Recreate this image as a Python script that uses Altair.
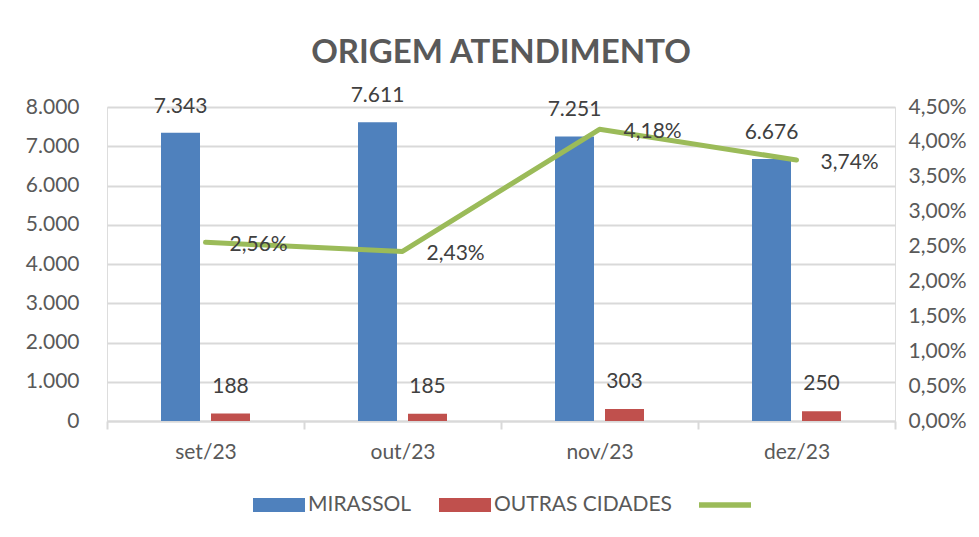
import altair as alt
import pandas as pd

meses = ["set/23", "out/23", "nov/23", "dez/23"]
mirassol = [7343, 7611, 7251, 6676]
outras = [188, 185, 303, 250]
percentual = [0.0256, 0.0243, 0.0418, 0.0374]
series = ["MIRASSOL", "OUTRAS CIDADES", " "]
cores = ["#4F81BD", "#C0504D", "#9BBB59"]
ticks_esq = [0, 1000, 2000, 3000, 4000, 5000, 6000, 7000, 8000]
ticks_dir = [0.0, 0.005, 0.01, 0.015, 0.02, 0.025, 0.03, 0.035, 0.04, 0.045]

FONT = "Lato"
GRAY = "#595959"
DARK = "#404040"
GRID = "#D9D9D9"

bars_df = pd.DataFrame({
    "mes": meses * 2,
    "serie": [series[0]] * len(meses) + [series[1]] * len(meses),
    "valor": mirassol + outras,
})
line_df = pd.DataFrame({"mes": meses, "pct": percentual})

x_enc = alt.X(
    "mes:N", sort=meses,
    scale=alt.Scale(paddingInner=0, paddingOuter=0),
    axis=alt.Axis(title=None, labelFontSize=21, labelColor=GRAY, labelFont=FONT,
                  tickBand="extent", tickSize=8, tickColor=GRID,
                  domain=True, domainColor=GRID, domainWidth=2, tickWidth=2,
                  labelPadding=12, grid=False, labelAngle=0),
)
y_left = alt.Y(
    "valor:Q", scale=alt.Scale(domain=[0, 8000], nice=False),
    axis=alt.Axis(title=None, values=ticks_esq,
                  labelExpr="replace(format(datum.value, ',d'), ',', '.')",
                  labelFontSize=21, labelColor=GRAY, labelFont=FONT,
                  ticks=False, domain=False, labelPadding=28,
                  grid=True, gridColor=GRID, gridWidth=2, gridOpacity=1),
)

base_bars = alt.Chart(bars_df).transform_calculate(
    rotulo="replace(format(datum.valor, ',d'), ',', '.')"
)

blue = base_bars.transform_filter(alt.datum.serie == series[0]).mark_bar(
    size=39, xOffset=-25, color=cores[0]).encode(x=x_enc, y=y_left)
red = base_bars.transform_filter(alt.datum.serie == series[1]).mark_bar(
    size=39, xOffset=25, color=cores[1]).encode(x=x_enc, y=y_left)
blue_txt = base_bars.transform_filter(alt.datum.serie == series[0]).mark_text(
    xOffset=-25, dy=-26, baseline="middle", font=FONT, fontSize=21, color=DARK
).encode(x=x_enc, y=y_left, text="rotulo:N")
red_txt = base_bars.transform_filter(alt.datum.serie == series[1]).mark_text(
    xOffset=25, dy=-27, baseline="middle", font=FONT, fontSize=21, color=DARK
).encode(x=x_enc, y=y_left, text="rotulo:N")

leg = alt.Legend(title=None, orient="none", direction="horizontal",
                 legendX=146, legendY=372,
                 symbolSize=2704, symbolStrokeWidth=0,
                 labelFontSize=21, labelColor=GRAY, labelFont=FONT,
                 labelOffset=3, columnPadding=27, labelLimit=400)

legend_pts = base_bars.transform_filter("false").mark_point(filled=True, opacity=1).encode(
    x=x_enc, y=y_left,
    color=alt.Color("serie:N", scale=alt.Scale(domain=series, range=cores), legend=leg),
    shape=alt.Shape("serie:N", scale=alt.Scale(
        domain=series,
        range=["M-1,-0.27H1V0.27H-1Z", "M-1,-0.27H1V0.27H-1Z", "M-1,-0.11H1V0.11H-1Z"]),
        legend=leg),
)

left = alt.layer(blue, red, blue_txt, red_txt, legend_pts)

y_right = alt.Y(
    "pct:Q", scale=alt.Scale(domain=[0, 0.045], nice=False),
    axis=alt.Axis(title=None, orient="right", values=ticks_dir,
                  labelExpr="replace(format(datum.value, '.2%'), '.', ',')",
                  labelFontSize=21, labelColor=GRAY, labelFont=FONT,
                  ticks=False, domain=False, grid=False, labelPadding=13),
)

line_base = alt.Chart(line_df).transform_calculate(
    rotulo="replace(format(datum.pct, '.2%'), '.', ',')"
)
line = line_base.mark_line(color=cores[2], strokeWidth=5, strokeCap="round",
                           strokeJoin="round").encode(x=x_enc, y=y_right)
line_txt = line_base.mark_text(align="left", dx=24, dy=3, baseline="middle",
                               font=FONT, fontSize=21, color=DARK).encode(
    x=x_enc, y=y_right, text="rotulo:N")

right = alt.layer(line, line_txt)

chart = alt.layer(left, right).resolve_scale(y="independent").properties(
    width=788, height=314,
    title=alt.Title("ORIGEM ATENDIMENTO", font=FONT, fontSize=33, fontWeight="bold",
                    color=GRAY, anchor="middle", offset=15),
    autosize=alt.AutoSizeParams(type="none"),
    padding={"left": 99, "top": 99, "right": 76, "bottom": 100},
).configure_view(
    strokeWidth=0, stroke="transparent"
).configure_axisLeft(
    grid=True, gridColor=GRID, gridWidth=2, gridOpacity=1, domain=False
).configure_axisRight(
    grid=False, domain=False
).configure(background="white")

chart.save("out.html", embed_options={"renderer": "svg", "actions": False})
